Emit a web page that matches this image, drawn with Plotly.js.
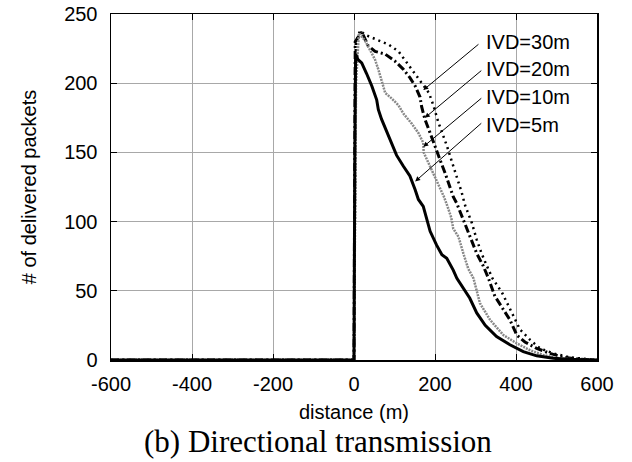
<!DOCTYPE html>
<html>
<head>
<meta charset="utf-8">
<script src="https://cdn.plot.ly/plotly-3.0.1.min.js"></script>
<style>html,body{margin:0;padding:0;background:#fff;}#chart{width:632px;height:462px;}</style>
</head>
<body>
<div id="chart"></div>
<script>
// IVD = 5m (solid)
var x5 = [-600, 0, 2, 4, 10, 19, 31, 44, 56, 60, 68, 89, 105, 122, 138, 151, 159, 171, 180, 188, 204, 217, 229, 245, 254, 286, 303, 324, 352, 385, 418, 451, 492, 530, 600];
var y5 = [0, 0, 150, 221, 217, 214.6, 207, 198, 188, 181, 174, 159, 148, 140, 133, 123, 116, 111, 101, 93, 83, 76, 73.5, 65, 59, 44.6, 34, 25, 17, 11, 6, 3, 1.2, 0.5, 0];
// IVD = 10m (grey dotted)
var x10 = [-600, 0, 5, 12, 27, 40, 52, 60, 68, 77, 93, 110, 122, 134, 142, 159, 171, 172, 180, 188, 196, 206, 216, 222, 232, 240, 245, 258, 270, 282, 295, 311, 336, 369, 402, 435, 467, 500, 540, 600];
var y10 = [0, 0, 200, 236, 231, 224, 217, 210, 202, 193, 189, 184, 178, 174, 171, 164, 157, 150, 145, 140, 134, 128, 122, 118, 110, 103, 95, 89, 77, 66, 59, 41, 29, 18, 12, 7, 3.6, 1.5, 0.5, 0];
// IVD = 20m (dash-dot)
var x20 = [-600, 0, 3, 19, 35, 52, 77, 101, 122, 138, 151, 163, 167, 175, 188, 200, 212, 225, 237, 245, 254, 270, 286, 303, 319, 332, 348, 369, 385, 402, 422, 451, 484, 517, 560, 600];
var y20 = [0, 0, 230, 237, 227, 223, 221, 216, 210, 204, 198, 190, 183, 174, 164, 154, 145, 135, 125, 118, 113, 101, 89, 77, 68, 59, 46, 36, 29, 18, 13, 8.4, 4.8, 1.9, 0.5, 0];
// IVD = 30m (dotted)
var x30 = [-600, 0, 5, 15, 27, 60, 85, 110, 130, 151, 171, 185, 196, 208, 229, 241, 254, 266, 274, 291, 303, 315, 328, 342, 365, 381, 398, 410, 435, 459, 492, 533, 575, 600];
var y30 = [0, 0, 230, 238, 235, 231, 228, 223, 215, 207, 199, 193, 184, 172, 155, 144, 133, 121, 112, 99, 87, 77, 68, 59, 49, 39, 29, 22, 14.5, 8.4, 4.8, 1.9, 0.7, 0];

var labels = ['IVD=30m', 'IVD=20m', 'IVD=10m', 'IVD=5m'];
var labelY = [230, 210, 190, 170];
var arrowTip = [[171, 195], [175, 175], [171, 154], [151, 129]];
var arrowTail = [[311, 229], [318, 210], [318, 190], [318, 172]];
var xTicks = [-600, -400, -200, 0, 200, 400, 600];
var yTicks = [0, 50, 100, 150, 200, 250];

var traces = [
  {x: x30, y: y30, mode: 'lines', line: {color: '#000', width: 2.5, dash: '2px,4px'}},
  {x: x20, y: y20, mode: 'lines', line: {color: '#000', width: 3, dash: '8px,3px,2px,3px'}},
  {x: x10, y: y10, mode: 'lines', line: {color: '#888', width: 2.5, dash: '2px,1px'}},
  {x: x5, y: y5, mode: 'lines', line: {color: '#000', width: 3}}
];

var ann = [];
for (var i = 0; i < labels.length; i++) {
  ann.push({x: 322, y: labelY[i], xref: 'x', yref: 'y', text: labels[i], showarrow: false,
    xanchor: 'left', yanchor: 'middle', font: {family: 'Liberation Sans, Arial, sans-serif', size: 20, color: '#000'}});
  ann.push({x: arrowTip[i][0], y: arrowTip[i][1], ax: arrowTail[i][0], ay: arrowTail[i][1],
    axref: 'x', ayref: 'y', xref: 'x', yref: 'y', text: '', showarrow: true,
    arrowhead: 2, arrowsize: 1, arrowwidth: 1, arrowcolor: '#000'});
}
ann.push({x: 0.425, y: -0.235, xref: 'paper', yref: 'paper', xanchor: 'center', yanchor: 'middle',
  text: '(b) Directional transmission', showarrow: false,
  font: {family: 'Liberation Serif, Times New Roman, serif', size: 31, color: '#000'}});

var axisFont = {family: 'Liberation Sans, Arial, sans-serif', size: 20, color: '#000'};
var layout = {
  width: 632, height: 462,
  margin: {l: 111, r: 35, t: 14, b: 102},
  paper_bgcolor: '#fff', plot_bgcolor: '#fff',
  showlegend: false,
  xaxis: {range: [-600, 600], tickvals: xTicks, ticktext: xTicks.map(String),
    showgrid: true, gridcolor: '#a8a8a8', gridwidth: 1, zeroline: false,
    showline: true, linecolor: '#000', linewidth: 1.5, mirror: 'ticks',
    ticks: 'inside', ticklen: 6, tickcolor: '#000', tickfont: axisFont, ticklabelstandoff: 5,
    title: {text: 'distance (m)', font: axisFont, standoff: 11}},
  yaxis: {range: [0, 250], tickvals: yTicks, ticktext: yTicks.map(String),
    showgrid: true, gridcolor: '#a8a8a8', gridwidth: 1, zeroline: false,
    showline: true, linecolor: '#000', linewidth: 1.5, mirror: 'ticks',
    ticks: 'inside', ticklen: 6, tickcolor: '#000', tickfont: axisFont, ticklabelstandoff: 8,
    title: {text: '# of delivered packets', font: axisFont, standoff: 22}},
  annotations: ann
};
Plotly.newPlot('chart', traces, layout, {displayModeBar: false, staticPlot: true});
</script>
</body>
</html>
